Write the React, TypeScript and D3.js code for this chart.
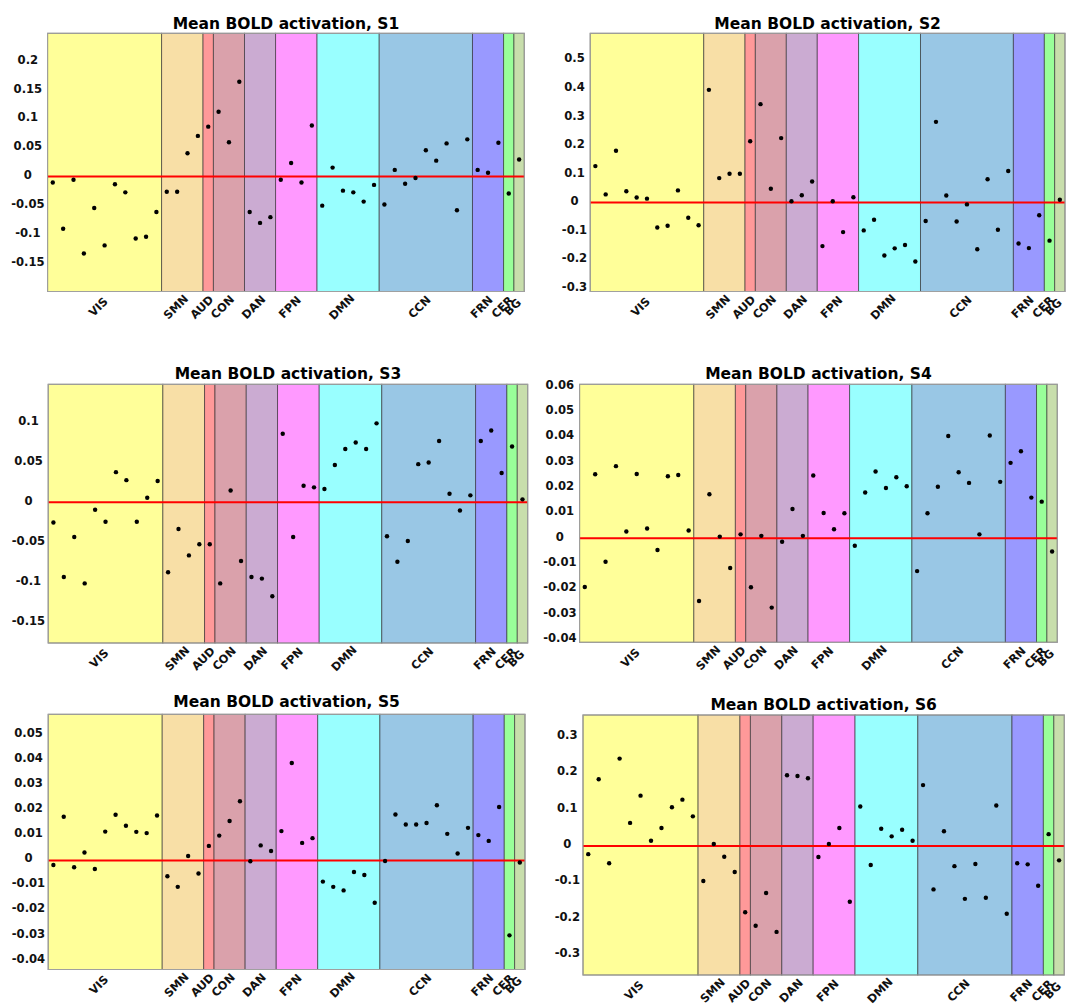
import React, { useRef, useEffect } from 'react';
import * as d3 from 'd3';

// Networks along the x axis, with how many ROIs (dots) each holds
const networks = ['VIS', 'SMN', 'AUD', 'CON', 'DAN', 'FPN', 'DMN', 'CCN', 'FRN', 'CER', 'BG'];
const networkSizes = [11, 4, 1, 3, 3, 4, 6, 9, 3, 1, 1];
const networkColors = [
  '#ffff99', '#f8dfa6', '#ff9999', '#daa1ab', '#cbabd2', '#ff99ff',
  '#99ffff', '#99c7e5', '#9999ff', '#99ff99', '#c8deac',
];

const subjects = ['S1', 'S2', 'S3', 'S4', 'S5', 'S6'];

// mean BOLD per ROI, in network order
const s1Values = [
  -0.013, -0.093, -0.008, -0.136, -0.057, -0.122, -0.016, -0.030, -0.110, -0.107, -0.064,
  -0.029, -0.029, 0.038, 0.068,
  0.084,
  0.110, 0.057, 0.162,
  -0.064, -0.083, -0.073,
  -0.008, 0.021, -0.013, 0.086,
  -0.053, 0.013, -0.027, -0.030, -0.046, -0.017,
  -0.051, 0.009, -0.015, -0.005, 0.043, 0.025, 0.055, -0.061, 0.062,
  0.009, 0.004, 0.056,
  -0.032,
  0.027,
];
const s2Values = [
  0.123, 0.024, 0.177, 0.035, 0.013, 0.009, -0.092, -0.086, 0.038, -0.058, -0.084,
  0.390, 0.081, 0.096, 0.096,
  0.210,
  0.340, 0.044, 0.221,
  0.000, 0.021, 0.069,
  -0.157, 0.000, -0.108, 0.014,
  -0.102, -0.065, -0.190, -0.165, -0.153, -0.211,
  -0.069, 0.278, 0.020, -0.071, -0.011, -0.168, 0.077, -0.100, 0.106,
  -0.148, -0.164, -0.049,
  -0.138,
  0.005,
];
const s3Values = [
  -0.027, -0.095, -0.045, -0.103, -0.011, -0.026, 0.036, 0.026, -0.026, 0.004, 0.025,
  -0.089, -0.035, -0.068, -0.054,
  -0.054,
  -0.103, 0.013, -0.075,
  -0.095, -0.097, -0.119,
  0.084, -0.045, 0.019, 0.017,
  0.015, 0.045, 0.065, 0.073, 0.065, 0.097,
  -0.044, -0.076, -0.050, 0.046, 0.048, 0.075, 0.009, -0.012, 0.007,
  0.075, 0.088, 0.035,
  0.068,
  0.002,
];
const s4Values = [
  -0.0199, 0.0246, -0.0099, 0.0278, 0.0020, 0.0247, 0.0032, -0.0053, 0.0238, 0.0243, 0.0024,
  -0.0254, 0.0167, 0.0000, -0.0124,
  0.0009,
  -0.0200, 0.0003, -0.0280,
  -0.0020, 0.0109, 0.0003,
  0.0241, 0.0093, 0.0029, 0.0092,
  -0.0036, 0.0174, 0.0257, 0.0192, 0.0234, 0.0199,
  -0.0136, 0.0092, 0.0197, 0.0397, 0.0254, 0.0212, 0.0009, 0.0399, 0.0216,
  0.0291, 0.0337, 0.0154,
  0.0138,
  -0.0059,
];
const s5Values = [
  -0.0027, 0.0165, -0.0036, 0.0023, -0.0043, 0.0106, 0.0173, 0.0129, 0.0105, 0.0100, 0.0170,
  -0.0072, -0.0114, 0.0009, -0.0061,
  0.0049,
  0.0090, 0.0148, 0.0227,
  -0.0012, 0.0051, 0.0029,
  0.0108, 0.0379, 0.0061, 0.0080,
  -0.0093, -0.0114, -0.0128, -0.0055, -0.0067, -0.0177,
  -0.0011, 0.0174, 0.0134, 0.0134, 0.0140, 0.0211, 0.0097, 0.0019, 0.0121,
  0.0092, 0.0069, 0.0204,
  -0.0307,
  -0.0017,
];
const s6Values = [
  -0.028, 0.178, -0.053, 0.235, 0.058, 0.133, 0.009, 0.044, 0.101, 0.122, 0.076,
  -0.102, 0.000, -0.035, -0.077,
  -0.188,
  -0.225, -0.135, -0.242,
  0.189, 0.187, 0.181,
  -0.036, 0.000, 0.044, -0.159,
  0.103, -0.058, 0.042, 0.021, 0.039, 0.009,
  0.162, -0.125, 0.035, -0.061, -0.151, -0.055, -0.148, 0.106, -0.192,
  -0.053, -0.056, -0.115,
  0.027,
  -0.045,
];
const subjectValues = [s1Values, s2Values, s3Values, s4Values, s5Values, s6Values];

// red reference line per subject
const meanLines = [-0.0023, -0.0046, -0.0017, -0.00066, -0.00093, -0.0055];

const yDomains = [
  [-0.202, 0.246],
  [-0.316, 0.588],
  [-0.1775, 0.1458],
  [-0.0417, 0.0601],
  [-0.0443, 0.0573],
  [-0.3606, 0.355],
];
const yTicks = [
  [-0.15, -0.1, -0.05, 0, 0.05, 0.1, 0.15, 0.2],
  [-0.3, -0.2, -0.1, 0, 0.1, 0.2, 0.3, 0.4, 0.5],
  [-0.15, -0.1, -0.05, 0, 0.05, 0.1],
  [-0.04, -0.03, -0.02, -0.01, 0, 0.01, 0.02, 0.03, 0.04, 0.05, 0.06],
  [-0.04, -0.03, -0.02, -0.01, 0, 0.01, 0.02, 0.03, 0.04, 0.05],
  [-0.3, -0.2, -0.1, 0, 0.1, 0.2, 0.3],
];

// axes boxes in page pixels
const panels = [
  { left: 47.6, right: 524.3, top: 33.3, bottom: 291.5, titleY: 29 },
  { left: 590.2, right: 1065, top: 33.3, bottom: 291.5, titleY: 29 },
  { left: 48.2, right: 527.7, top: 384.3, bottom: 643, titleY: 378.5 },
  { left: 579.6, right: 1057.3, top: 384.3, bottom: 642.3, titleY: 378.5 },
  { left: 48.2, right: 525, top: 714.3, bottom: 969.5, titleY: 707 },
  { left: 583, right: 1064.3, top: 715, bottom: 975, titleY: 709.5 },
];

const FONT = '"DejaVu Sans", Verdana, sans-serif';
const W = 1066;
const H = 1005;

export default function App() {
  const svgRef = useRef<SVGSVGElement | null>(null);

  useEffect(() => {
    if (!svgRef.current) return;
    const svg = d3.select(svgRef.current);
    svg.selectAll('*').remove();

    const nTotal = d3.sum(networkSizes);
    const starts = networkSizes.map((_, i) => d3.sum(networkSizes.slice(0, i)));

    subjects.forEach((subj, k) => {
      const p = panels[k];
      const x = d3.scaleLinear().domain([0, nTotal]).range([p.left, p.right]);
      const y = d3.scaleLinear().domain(yDomains[k]).range([p.bottom, p.top]);
      const g = svg.append('g');

      // network bands
      g.selectAll('rect.band')
        .data(networks)
        .join('rect')
        .attr('class', 'band')
        .attr('x', (_, i) => x(starts[i]))
        .attr('y', p.top)
        .attr('width', (_, i) => x(starts[i] + networkSizes[i]) - x(starts[i]))
        .attr('height', p.bottom - p.top)
        .attr('fill', (_, i) => networkColors[i])
        .attr('stroke', 'rgba(40,40,40,0.6)')
        .attr('stroke-width', 1);

      // red reference line
      g.append('line')
        .attr('x1', p.left)
        .attr('x2', p.right)
        .attr('y1', y(meanLines[k]))
        .attr('y2', y(meanLines[k]))
        .attr('stroke', '#ff0000')
        .attr('stroke-width', 2);

      // ROI dots
      g.selectAll('circle')
        .data(subjectValues[k])
        .join('circle')
        .attr('cx', (_, i) => x(i + 0.5))
        .attr('cy', d => y(d))
        .attr('r', 2.2)
        .attr('fill', '#000');

      // axes box
      g.append('rect')
        .attr('x', p.left)
        .attr('y', p.top)
        .attr('width', p.right - p.left)
        .attr('height', p.bottom - p.top)
        .attr('fill', 'none')
        .attr('stroke', '#a0a0a0')
        .attr('stroke-width', 1);

      // y tick labels, centred as a column next to the axis
      const labels = g.selectAll('text.ytick')
        .data(yTicks[k])
        .join('text')
        .attr('class', 'ytick')
        .attr('y', d => y(d))
        .attr('text-anchor', 'middle')
        .attr('dominant-baseline', 'central')
        .attr('font-family', FONT)
        .attr('font-weight', 'bold')
        .attr('font-size', '11.6px')
        .attr('fill', '#111')
        .text(d => String(d));
      let maxW = 0;
      labels.each(function () {
        maxW = Math.max(maxW, (this as SVGTextElement).getComputedTextLength());
      });
      labels.attr('x', p.left - 3 - maxW / 2);

      // rotated network labels, centred below each band
      g.selectAll('text.xtick')
        .data(networks)
        .join('text')
        .attr('class', 'xtick')
        .attr('transform', (_, i) => {
          const cx = x(starts[i] + networkSizes[i] / 2) - 6.5;
          return `translate(${cx},${p.bottom + 15.5}) rotate(-45)`;
        })
        .attr('text-anchor', 'middle')
        .attr('dominant-baseline', 'central')
        .attr('font-family', FONT)
        .attr('font-weight', 'bold')
        .attr('font-size', '11.4px')
        .attr('fill', '#111')
        .text(d => d);

      // title
      g.append('text')
        .attr('x', (p.left + p.right) / 2)
        .attr('y', p.titleY)
        .attr('text-anchor', 'middle')
        .attr('font-family', FONT)
        .attr('font-weight', 'bold')
        .attr('font-size', '15.5px')
        .attr('fill', '#000')
        .text(`Mean BOLD activation, ${subj}`);
    });
  }, []);

  return (
    <svg
      ref={svgRef}
      width={W}
      height={H}
      style={{ position: 'absolute', left: 0, top: 0, background: '#fff' }}
    />
  );
}
